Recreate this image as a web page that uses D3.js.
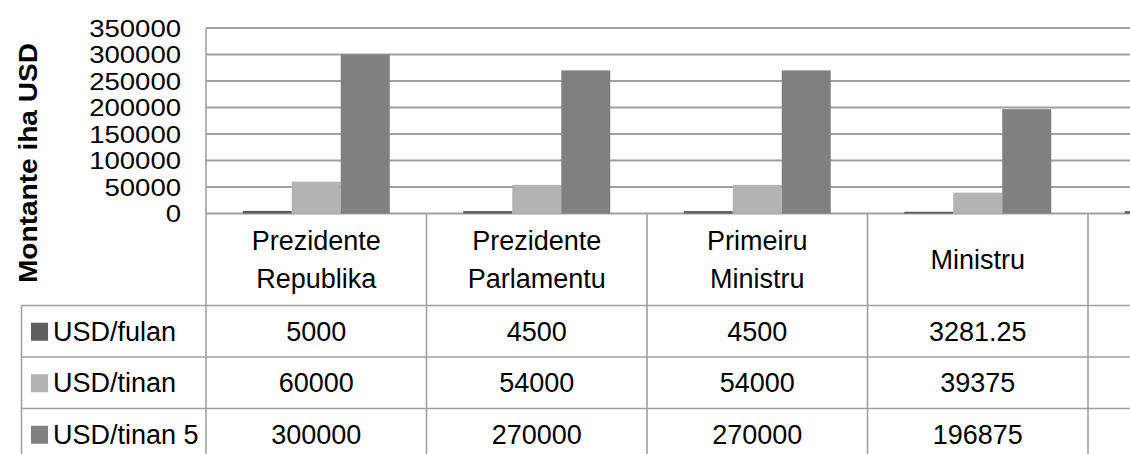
<!DOCTYPE html>
<html>
<head>
<meta charset="utf-8">
<script src="https://cdn.jsdelivr.net/npm/d3@7"></script>
<style>
  html, body { margin: 0; padding: 0; background: #fff; }
  svg { display: block; }
  text { font-family: "Liberation Sans", Arial, sans-serif; fill: #000; }
</style>
</head>
<body>
<svg id="chart" width="1130" height="454"></svg>
<script>
// ---- data ----
const categories = [["Prezidente", "Republika"], ["Prezidente", "Parlamentu"], ["Primeiru", "Ministru"], ["Ministru"], [""]];
const seriesNames = ["USD/fulan", "USD/tinan", "USD/tinan 5"];
const usdFulan  = [5000, 4500, 4500, 3281.25, 4500];
const usdTinan  = [60000, 54000, 54000, 39375, null];
const usdTinan5 = [300000, 270000, 270000, 196875, null];
const yTicks = [0, 50000, 100000, 150000, 200000, 250000, 300000, 350000];
const seriesColors = ["#5e5e5e", "#b3b3b3", "#808080"];

const seriesValues = [usdFulan, usdTinan, usdTinan5];

// ---- layout ----
const svg = d3.select("#chart");
const plotLeft = 206, catW = 220.5;
const yBottom = 213.5, yTop = 28;
const tableLeft = 21.5;
const headerBottom = 305.5, rowH = 51.5;
const gridColor = "#a0a0a0";

const catIdx = categories.map((d, i) => i);
const x = d3.scaleBand().domain(catIdx).range([plotLeft, plotLeft + catW * categories.length]).padding(0);
const xs = d3.scaleBand().domain(d3.range(seriesNames.length)).range([0, x.bandwidth()]).paddingInner(0).paddingOuter(0.75);
const y = d3.scaleLinear().domain([0, 350000]).range([yBottom, yTop]);

// gridlines
svg.append("g").selectAll("line").data(yTicks).join("line")
  .attr("x1", plotLeft).attr("x2", 1130)
  .attr("y1", d => y(d)).attr("y2", d => y(d))
  .attr("stroke", gridColor).attr("stroke-width", 2);

// y tick labels (narrow-tall look of the original)
svg.append("g").selectAll("text").data(yTicks).join("text")
  .attr("x", 181).attr("y", d => y(d) + 8.5)
  .attr("text-anchor", "end")
  .attr("font-size", 23)
  .attr("textLength", d => String(d).length * 15.3)
  .attr("lengthAdjust", "spacingAndGlyphs")
  .text(d => d);

// bars
const barData = [];
seriesValues.forEach((vals, s) => vals.forEach((v, c) => { if (v != null) barData.push({s, c, v}); }));
svg.append("g").selectAll("rect").data(barData).join("rect")
  .attr("x", d => x(d.c) + xs(d.s))
  .attr("width", xs.bandwidth())
  .attr("y", d => y(d.v))
  .attr("height", d => y(0) - y(d.v))
  .attr("fill", d => seriesColors[d.s]);

// plot left axis / table vertical lines
const tableBottom = headerBottom + rowH * 3 + 10;
const vLines = d3.range(categories.length + 1).map(i => plotLeft + i * catW);
svg.append("g").selectAll("line").data(vLines).join("line")
  .attr("x1", d => d).attr("x2", d => d)
  .attr("y1", (d, i) => i === 0 ? yTop : yBottom).attr("y2", tableBottom)
  .attr("stroke", gridColor).attr("stroke-width", 1.6);

// table left border
svg.append("line")
  .attr("x1", tableLeft).attr("x2", tableLeft)
  .attr("y1", headerBottom).attr("y2", tableBottom)
  .attr("stroke", gridColor).attr("stroke-width", 1.6);

// table horizontal lines
const hLines = d3.range(3).map(i => headerBottom + i * rowH);
svg.append("g").selectAll("line").data(hLines).join("line")
  .attr("x1", tableLeft).attr("x2", 1130)
  .attr("y1", d => d).attr("y2", d => d)
  .attr("stroke", gridColor).attr("stroke-width", 1.6);

// category labels (header row)
const headerMid = (yBottom + headerBottom) / 2;
const catG = svg.append("g").selectAll("text").data(categories).join("text")
  .attr("text-anchor", "middle")
  .attr("font-size", 27);
catG.each(function(lines, i) {
  const t = d3.select(this);
  const cx = x(i) + x.bandwidth() / 2;
  const lh = 38;
  const first = headerMid + 9 - (lines.length - 1) * lh / 2;
  lines.forEach((ln, k) => {
    t.append("tspan").attr("x", cx).attr("y", first + k * lh).text(ln);
  });
});

// table rows: legend + values (only columns whose header is visible)
seriesNames.forEach((name, s) => {
  const rowMid = headerBottom + s * rowH + rowH / 2;
  const base = rowMid + 9.5;
  svg.append("rect")
    .attr("x", 31).attr("y", base - 18)
    .attr("width", 17).attr("height", 18)
    .attr("fill", seriesColors[s]);
  svg.append("text")
    .attr("x", 53).attr("y", base)
    .attr("font-size", 27)
    .text(name);
  const cells = seriesValues[s].map((v, c) => ({v, c})).filter(d => categories[d.c][0] !== "" && d.v != null);
  svg.append("g").selectAll("text").data(cells).join("text")
    .attr("x", d => x(d.c) + x.bandwidth() / 2)
    .attr("y", base)
    .attr("text-anchor", "middle")
    .attr("font-size", 27)
    .text(d => String(d.v));
});

// y axis title
svg.append("text")
  .attr("transform", "translate(36.5,163) rotate(-90)")
  .attr("text-anchor", "middle")
  .attr("font-size", 25)
  .attr("font-weight", "bold")
  .attr("textLength", 240)
  .attr("lengthAdjust", "spacingAndGlyphs")
  .text("Montante iha USD");
</script>
</body>
</html>
